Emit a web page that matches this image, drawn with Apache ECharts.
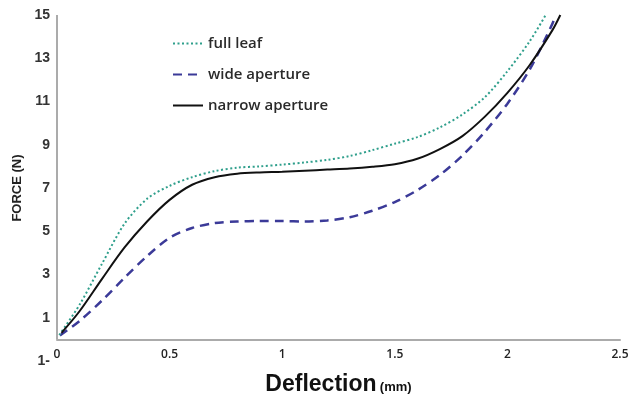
<!DOCTYPE html>
<html>
<head>
<meta charset="utf-8">
<script src="https://cdn.jsdelivr.net/npm/echarts@6/dist/echarts.min.js"></script>
<style>
html,body{margin:0;padding:0;background:#fff;}
#chart{width:630px;height:398px;}
</style>
</head>
<body>
<div id="chart"></div>
<script>
// Data
var seriesNames = ['full leaf', 'wide aperture', 'narrow aperture'];

var fullLeafX = [0.01, 0.1, 0.2, 0.3, 0.4, 0.5, 0.6, 0.7, 0.8, 0.9, 1.0, 1.1, 1.2, 1.3, 1.4, 1.5, 1.6, 1.7, 1.8, 1.9, 2.0, 2.1, 2.17];
var fullLeafY = [0.2, 1.6, 3.5, 5.35, 6.5, 7.1, 7.5, 7.78, 7.94, 8.0, 8.08, 8.18, 8.3, 8.48, 8.75, 9.05, 9.35, 9.8, 10.4, 11.2, 12.4, 13.8, 15.0];

var wideX = [0.013, 0.1, 0.2, 0.3, 0.4, 0.5, 0.6, 0.7, 0.8, 0.9, 1.0, 1.1, 1.2, 1.3, 1.4, 1.5, 1.6, 1.7, 1.8, 1.9, 2.0, 2.1, 2.2, 2.213];
var wideY = [0.18, 0.85, 1.8, 2.85, 3.85, 4.7, 5.15, 5.38, 5.45, 5.47, 5.47, 5.45, 5.5, 5.65, 5.95, 6.35, 6.9, 7.6, 8.5, 9.6, 10.9, 12.5, 14.6, 15.0];

var narrowX = [0.02, 0.1, 0.2, 0.3, 0.4, 0.5, 0.6, 0.7, 0.8, 0.9, 1.0, 1.1, 1.2, 1.3, 1.4, 1.5, 1.6, 1.7, 1.8, 1.9, 2.0, 2.1, 2.2, 2.235];
var narrowY = [0.3, 1.3, 2.8, 4.25, 5.45, 6.45, 7.15, 7.5, 7.66, 7.72, 7.75, 7.8, 7.85, 7.9, 7.98, 8.1, 8.35, 8.8, 9.4, 10.3, 11.4, 12.7, 14.3, 15.0];

var xTickLabels = ['0', '0.5', '1', '1.5', '2', '2.5'];
var yTickValues = [-1, 1, 3, 5, 7, 9, 11, 13, 15];
var yTickLabels = ['1-', '1', '3', '5', '7', '9', '11', '13', '15'];

function pairs(xs, ys) {
  return xs.map(function (x, i) { return [x, ys[i]]; });
}

var chart = echarts.init(document.getElementById('chart'), null, {renderer: 'canvas'});

var axisGray = '#ababab';

var option = {
  animation: false,
  backgroundColor: '#ffffff',
  grid: {left: 57, right: 10, top: 15, bottom: 37, containLabel: false, outerBoundsMode: 'none'},
  legend: {
    orient: 'vertical',
    left: 167,
    top: 31,
    itemWidth: 30,
    itemHeight: 14,
    itemGap: 16,
    data: seriesNames,
    itemStyle: {opacity: 0},
    textStyle: {fontFamily: '"Open Sans", Arial, sans-serif', fontWeight: 600, fontSize: 15, color: '#2a2a2a'}
  },
  xAxis: {
    type: 'value',
    min: 0,
    max: 2.5,
    interval: 0.5,
    axisLine: {onZero: true, lineStyle: {color: axisGray, width: 2}},
    axisTick: {show: false},
    splitLine: {show: false},
    axisLabel: {
      margin: -12,
      fontFamily: '"Open Sans", Arial, sans-serif',
      fontWeight: 600,
      fontSize: 12,
      color: '#222',
      formatter: function (v) { return xTickLabels[Math.round(v / 0.5)]; }
    },
    name: '{a|Deflection} {b|(mm)}',
    nameLocation: 'middle',
    nameGap: 12,
    nameTextStyle: {
      rich: {
        a: {fontFamily: '"Liberation Sans", Arial, sans-serif', fontWeight: 'bold', fontSize: 23, color: '#111'},
        b: {fontFamily: '"Liberation Sans", Arial, sans-serif', fontWeight: 'bold', fontSize: 13, color: '#111', padding: [5, 0, 0, 0]}
      }
    }
  },
  yAxis: {
    type: 'value',
    min: -1,
    max: 15,
    interval: 2,
    axisLine: {show: false},
    axisTick: {show: false},
    splitLine: {show: false},
    axisLabel: {
      margin: 7,
      fontFamily: '"Liberation Sans", Arial, sans-serif',
      fontWeight: 'bold',
      fontSize: 14,
      color: '#333',
      formatter: function (v) {
        var i = yTickValues.indexOf(Math.round(v));
        return i >= 0 ? yTickLabels[i] : '';
      }
    },
    name: 'FORCE (N)',
    nameLocation: 'middle',
    nameGap: 32,
    nameTextStyle: {fontFamily: '"Liberation Sans", Arial, sans-serif', fontWeight: 'bold', fontSize: 13, color: '#222'}
  },
  series: [
    {
      name: seriesNames[0],
      type: 'line',
      smooth: 0.3,
      symbol: 'none',
      data: pairs(fullLeafX, fullLeafY),
      itemStyle: {color: '#2f9f8c'},
      lineStyle: {color: '#2f9f8c', width: 2, type: [2, 2.5]},
      z: 3,
      markLine: {
        silent: true,
        symbol: 'none',
        label: {show: false},
        lineStyle: {color: axisGray, width: 2, type: 'solid'},
        data: [[{coord: [0, 0]}, {coord: [0, 15]}]]
      }
    },
    {
      name: seriesNames[1],
      type: 'line',
      smooth: 0.3,
      symbol: 'none',
      data: pairs(wideX, wideY),
      itemStyle: {color: '#3b3a98'},
      lineStyle: {color: '#3b3a98', width: 2.5, type: [9, 6]},
      z: 2
    },
    {
      name: seriesNames[2],
      type: 'line',
      smooth: 0.3,
      symbol: 'none',
      data: pairs(narrowX, narrowY),
      itemStyle: {color: '#111111'},
      lineStyle: {color: '#111111', width: 2},
      z: 4
    }
  ]
};

chart.setOption(option);
</script>
</body>
</html>
